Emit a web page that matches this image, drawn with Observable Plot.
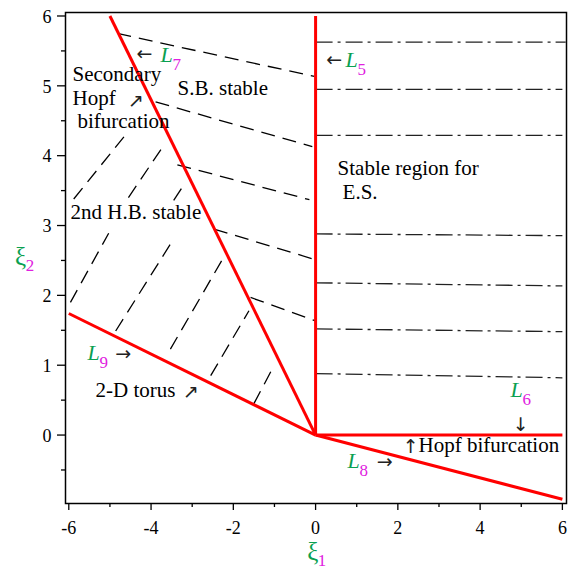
<!DOCTYPE html>
<html>
<head>
<meta charset="utf-8">
<script src="https://cdn.jsdelivr.net/npm/d3@7"></script>
<script src="https://cdn.jsdelivr.net/npm/@observablehq/plot@0.6"></script>
<style>
  html, body { margin: 0; padding: 0; background: #fff; }
</style>
</head>
<body>
<div id="chart"></div>
<script>
// Axis ticks
const xTicks = [-6, -4, -2, 0, 2, 4, 6];
const xMinor = [-5, -3, -1, 1, 3, 5];
const yTicks = [0, 1, 2, 3, 4, 5, 6];
const yMinor = [-0.5, 0.5, 1.5, 2.5, 3.5, 4.5, 5.5];

// Boundary lines L5..L9
const boundaryNames = ["L5", "L6", "L7", "L8", "L9"];
const boundaryX1 = [0, 0, -5, 0, -6];
const boundaryY1 = [0, 0, 6, 0, 1.74];
const boundaryX2 = [0, 6, 0, 6, 0];
const boundaryY2 = [6, 0, 0, -0.92, 0];

// S.B. stable region dashed hatching (from L7 to L5)
const sbX1 = [-4.82, -3.89, -3.36, -2.47, -1.58];
const sbY1 = [5.75, 4.77, 3.87, 2.95, 1.97];
const sbX2 = [-0.03, -0.08, -0.15, 0, 0.02];
const sbY2 = [5.135, 4.13, 3.37, 2.51, 1.63];

// 2nd H.B. stable region dashed hatching (between L9 and L7)
const hbX1 = [-5.88, -5.96, -4.55, -4.86, -3.45, -3.53, -2.55, -1.50];
const hbY1 = [3.38, 1.90, 3.40, 1.49, 3.36, 1.23, 0.85, 0.45];
const hbX2 = [-4.66, -5.03, -3.69, -3.48, -3.16, -2.23, -1.62, -1.05];
const hbY2 = [4.27, 2.89, 4.15, 2.78, 3.62, 2.55, 1.78, 0.95];

// E.S. stable region dash-dot hatching (right of L5)
const esX2 = [6.08, 6, 6, 6, 6, 6, 6];
const esYLeft = [5.625, 4.95, 4.29, 2.88, 2.18, 1.52, 0.88];
const esYRight = [5.625, 4.95, 4.29, 2.855, 2.135, 1.48, 0.82];

// Region annotations
const noteText = ["Secondary", "Hopf", "bifurcation", "S.B. stable", "Stable region for", "E.S.", "2nd H.B. stable", "2-D torus", "Hopf bifurcation"];
const noteX = [-5.91, -5.91, -5.79, -3.355, 0.535, 0.656, -5.957, -5.349, 2.504];
const noteY = [5.063, 4.719, 4.39, 4.863, 3.717, 3.373, 3.087, 0.538, -0.249];

// Arrows
const arrowText = ["←", "←", "→", "→", "↓", "↑", "↗", "↗"];
const arrowX = [-4.158, 0.45, -4.68, 1.678, 4.984, 2.31, -4.376, -3.039];
const arrowY = [5.45, 5.378, 1.168, -0.378, 0.152, -0.163, 4.79, 0.624];

// Line labels L_k
const lineLabelIndex = ["7", "5", "6", "9", "8"];
const lineLabelX = [-3.768, 0.729, 4.741, -5.543, 0.778];
const lineLabelY = [5.335, 5.263, 0.538, 1.068, -0.478];

// Axis titles ξ1, ξ2
const axisTitleIndex = ["1", "2"];
const axisTitleX = [-0.07, -7.17];
const axisTitleY = [-1.796, 2.44];

const boundaries = boundaryNames.map((n, i) => ({n, x1: boundaryX1[i], y1: boundaryY1[i], x2: boundaryX2[i], y2: boundaryY2[i]}));
const sb = sbX1.map((d, i) => ({x1: d, y1: sbY1[i], x2: sbX2[i], y2: sbY2[i]}));
const hb = hbX1.map((d, i) => ({x1: d, y1: hbY1[i], x2: hbX2[i], y2: hbY2[i]}));
const es = esYLeft.map((d, i) => ({x1: 0, y1: d, x2: esX2[i], y2: esYRight[i]}));
const notes = noteText.map((t, i) => ({t, x: noteX[i], y: noteY[i]}));
const arrows = arrowText.map((t, i) => ({t, x: arrowX[i], y: arrowY[i]}));
const lineLabels = lineLabelIndex.map((k, i) => ({k, x: lineLabelX[i], y: lineLabelY[i]}));
const axisTitles = axisTitleIndex.map((k, i) => ({k, x: axisTitleX[i], y: axisTitleY[i]}));

const serif = "Liberation Serif, Times New Roman, serif";
const arrowFont = "DejaVu Sans, sans-serif";
const green = "#0aa050";
const magenta = "#e020e0";

const chart = Plot.plot({
  width: 570,
  height: 569,
  marginLeft: 65,
  marginRight: 4,
  marginTop: 12,
  marginBottom: 66,
  style: {fontFamily: serif, fontSize: "17px", background: "#fff", color: "#000", overflow: "visible"},
  x: {domain: [-6.08, 6.1]},
  y: {domain: [-0.98, 6.05]},
  marks: [
    Plot.axisX(xTicks, {tickSize: 7, tickFormat: () => "", label: null, strokeWidth: 1.3}),
    Plot.axisX(xMinor, {tickSize: 4, tickFormat: () => "", label: null, strokeWidth: 1.3}),
    Plot.axisY(yTicks, {tickSize: 8, tickFormat: () => "", label: null, strokeWidth: 1.3}),
    Plot.axisY(yMinor, {tickSize: 4, tickFormat: () => "", label: null, strokeWidth: 1.3}),
    Plot.text(xTicks, {x: d => d, text: d => String(d), frameAnchor: "bottom", lineAnchor: "middle", dy: 25, fontSize: 18, fill: "#000", fontFamily: serif}),
    Plot.text(yTicks, {y: d => d, text: d => String(d), frameAnchor: "left", textAnchor: "end", lineAnchor: "middle", dx: -14, dy: 1, fontSize: 18, fill: "#000", fontFamily: serif}),
    Plot.link(sb, {x1: "x1", y1: "y1", x2: "x2", y2: "y2", stroke: "#000", strokeWidth: 1.3, strokeDasharray: "14,8"}),
    Plot.link(hb, {x1: "x1", y1: "y1", x2: "x2", y2: "y2", stroke: "#000", strokeWidth: 1.3, strokeDasharray: "14,8"}),
    Plot.link(es, {x1: "x1", y1: "y1", x2: "x2", y2: "y2", stroke: "#222", strokeWidth: 1.3, strokeDasharray: "17,5,3,5"}),
    Plot.link(boundaries, {x1: "x1", y1: "y1", x2: "x2", y2: "y2", stroke: "#ff0000", strokeWidth: 3}),
    Plot.frame({stroke: "#000", strokeWidth: 1.5}),
    Plot.text(notes, {x: "x", y: "y", text: "t", textAnchor: "start", lineAnchor: "bottom", fontSize: 21, fill: "#000", fontFamily: serif}),
    Plot.text(arrows, {x: "x", y: "y", text: "t", textAnchor: "middle", lineAnchor: "middle", fontSize: 19, fill: "#222", fontFamily: arrowFont}),
    Plot.text(lineLabels, {x: "x", y: "y", text: () => "L", textAnchor: "start", lineAnchor: "bottom", fontSize: 22, fontStyle: "italic", fill: green, fontFamily: serif}),
    Plot.text(lineLabels, {x: "x", y: "y", text: "k", textAnchor: "start", lineAnchor: "bottom", fontSize: 17, dx: 12, dy: 8, fill: magenta, fontFamily: serif}),
    Plot.text(axisTitles, {x: "x", y: "y", text: () => "ξ", textAnchor: "middle", lineAnchor: "bottom", fontSize: 25, fill: green, fontFamily: serif}),
    Plot.text(axisTitles, {x: "x", y: "y", text: "k", textAnchor: "start", lineAnchor: "bottom", fontSize: 17, dx: 5, dy: 6, fill: magenta, fontFamily: serif})
  ]
});
document.getElementById("chart").appendChild(chart);
</script>
</body>
</html>
